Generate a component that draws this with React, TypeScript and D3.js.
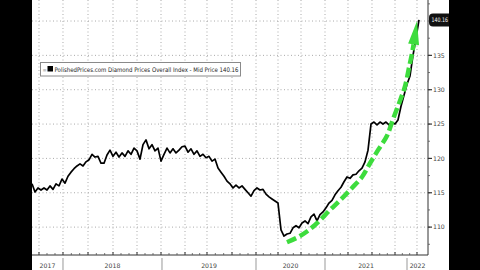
import React from "react";
import * as d3 from "d3";

// Diamond index (weekly samples, index position on x axis)
const indexValues: number[] = [
  116.3, 115.1, 115.7, 115.4, 115.7, 115.4, 116.0, 115.5, 116.3, 116.0,
  117.0, 116.4, 117.4, 118.0, 118.5, 118.9, 119.2, 118.9, 119.5, 119.8,
  120.6, 120.2, 120.3, 119.3, 119.3, 120.5, 121.2, 120.3, 120.9, 120.2,
  120.8, 120.3, 121.1, 120.6, 121.5, 121.1, 119.9, 122.0, 122.7, 121.4,
  122.0, 121.1, 121.5, 119.6, 120.6, 121.5, 120.8, 121.4, 120.8, 121.2,
  121.7, 121.8, 120.9, 121.4, 120.6, 121.1, 120.3, 120.6, 120.1, 120.3,
  119.6, 119.9, 118.6, 118.0, 117.4, 116.7, 116.3, 115.7, 116.1, 115.7,
  116.0, 115.5, 115.0, 114.5, 115.3, 115.7, 115.4, 115.5, 114.8, 114.4,
  114.1, 113.8, 113.5, 109.6, 108.7, 109.0, 109.1, 109.9, 110.2, 109.9,
  110.6, 110.9, 110.5, 111.5, 111.9, 110.9, 111.8, 112.2, 112.8, 113.5,
  113.9, 114.7, 115.3, 115.8, 116.6, 117.3, 117.1, 117.6, 117.7, 118.2,
  118.6, 119.5, 121.2, 125.0, 125.3, 124.9, 125.3, 125.0, 125.3, 124.9,
  125.2, 125.0, 125.6, 127.6, 129.2, 130.8, 132.0, 135.0, 137.5, 140.16,
];

// Green trend annotation (index, value)
const trendIdx: number[] = [85.0, 89.33, 94.33, 99.33, 102.67, 106.67, 110.0, 112.67, 115.33, 118.33, 120.33, 122.67, 124.33, 125.67, 126.67, 127.2];
const trendVal: number[] = [107.8, 108.7, 110.3, 112.5, 113.9, 115.7, 117.3, 119.3, 121.2, 123.3, 125.7, 128.4, 130.5, 133.2, 135.3, 136.6];
const trendTip: number[] = [128.33, 140.0];

const yearLabels: string[] = ["2017", "2018", "2019", "2020", "2021", "2022"];
const yearBounds: number[] = [0, 10.33, 43.33, 74.67, 97.67, 125, 132];
const gridIdx: number[] = [2.33, 10.33, 18.67, 27, 35, 43, 51, 58.33, 66.67, 74.67, 82, 89.67, 97.67, 105.33, 113.33, 121, 128.33];
const yTicks: number[] = [110, 115, 120, 125, 130, 135];
const yGrid: number[] = [110, 115, 120, 125, 130, 135, 140];
const lastValue = "140.16";
const legendText = "PolishedPrices.com Diamond Prices Overall Index - Mid Price 140.16";

export default function App() {
  const W = 480, H = 270;
  const left = 32, right = 428, bottom = 255;
  const x = d3.scaleLinear().domain([0, 132]).range([left, right]);
  const y = d3.scaleLinear().domain([105.94, 143.06]).range([bottom, 0]);

  const line = d3.line<number>().x((_, i) => x(i)).y((d) => y(d)).curve(d3.curveLinear);
  const trendPts: [number, number][] = trendIdx.map((t, i) => [x(t), y(trendVal[i])]);
  const trendLine = d3.line().curve(d3.curveCatmullRom)(trendPts) || "";

  // arrowhead
  const tip: [number, number] = [x(trendTip[0]), y(trendTip[1])];
  const base = trendPts[trendPts.length - 1];
  const dx = tip[0] - base[0], dy = tip[1] - base[1];
  const len = Math.hypot(dx, dy);
  const px = -dy / len, py = dx / len;
  const hw = 5.5;
  const head = `M${tip[0]},${tip[1]} L${base[0] + px * hw},${base[1] + py * hw} L${base[0] - px * hw},${base[1] - py * hw} Z`;

  // monthly minor ticks on x axis
  const minor: number[] = [];
  for (let g = 0; g < gridIdx.length - 1; g++) {
    const a = gridIdx[g], b = gridIdx[g + 1];
    minor.push(a + (b - a) / 3, a + (2 * (b - a)) / 3);
  }
  const yMinor = d3.range(107.5, 143, 2.5);

  return (
    <svg width={W} height={H} style={{ position: "absolute", left: 0, top: 0, background: "#fff" }}
      fontFamily="'DejaVu Sans', Verdana, sans-serif">
      <rect x={0} y={0} width={W} height={H} fill="#fff" />
      {/* grid */}
      {yGrid.map((v) => (
        <line key={"hg" + v} x1={left} x2={right} y1={y(v)} y2={y(v)} stroke="#aaa" strokeWidth={1} strokeDasharray="1,2.5" />
      ))}
      {gridIdx.map((g) => (
        <line key={"vg" + g} x1={x(g)} x2={x(g)} y1={0} y2={bottom} stroke="#aaa" strokeWidth={1} strokeDasharray="1,2.5" />
      ))}
      {/* axes */}
      <line x1={left} x2={right} y1={bottom} y2={bottom} stroke="#333" strokeWidth={1} />
      <line x1={right} x2={right} y1={0} y2={bottom} stroke="#333" strokeWidth={1} />
      {gridIdx.map((g) => (
        <line key={"xt" + g} x1={x(g)} x2={x(g)} y1={bottom} y2={bottom - 3} stroke="#333" strokeWidth={1} />
      ))}
      {minor.map((g, i) => (
        <line key={"xm" + i} x1={x(g)} x2={x(g)} y1={bottom} y2={bottom - 2} stroke="#555" strokeWidth={0.8} />
      ))}
      {yearBounds.slice(1, -1).map((b) => (
        <line key={"yb" + b} x1={x(b)} x2={x(b)} y1={bottom + 3} y2={H} stroke="#999" strokeWidth={1} />
      ))}
      {yearLabels.map((lab, i) => (
        <text key={lab} x={x((yearBounds[i] + yearBounds[i + 1]) / 2)} y={268} fontSize={6.2} fill="#444" textAnchor="middle">{lab}</text>
      ))}
      {yMinor.map((v) => (
        <line key={"ym" + v} x1={right} x2={right + 2} y1={y(v)} y2={y(v)} stroke="#555" strokeWidth={0.8} />
      ))}
      {yTicks.map((v) => (
        <g key={"yt" + v}>
          <line x1={right} x2={right + 4} y1={y(v)} y2={y(v)} stroke="#333" strokeWidth={1.2} />
          <text x={right + 5} y={y(v) + 2.3} fontSize={6.2} fill="#444">{v}</text>
        </g>
      ))}
      {/* data line */}
      <path d={line(indexValues) || ""} fill="none" stroke="#000" strokeWidth={1.7} strokeLinejoin="round" />
      {/* green trend arrow */}
      <path d={trendLine} fill="none" stroke="#3ddc3d" strokeWidth={4.5} strokeDasharray="10,4" strokeLinecap="butt" />
      <path d={head} fill="#3ddc3d" />
      {/* last value badge */}
      <rect x={right + 1} y={y(140.16) - 6.5} width={26} height={13} rx={4} fill="#111" />
      <text x={right + 3.5} y={y(140.16) + 2.3} fontSize={6.2} fill="#fff" textLength={16.5} lengthAdjust="spacingAndGlyphs">{lastValue}</text>
      {/* legend */}
      <rect x={40.5} y={62.5} width={200} height={13.5} fill="#fff" stroke="#8a8a8a" strokeWidth={1} />
      <text x={42.5} y={71.5} fontSize={5} fill="#999">≡</text>
      <rect x={47.5} y={66} width={5.5} height={5.5} fill="#000" />
      <text x={54.5} y={71.8} fontSize={6.3} fill="#222" textLength={184} lengthAdjust="spacingAndGlyphs">{legendText}</text>
      {/* letterbox bars */}
      <rect x={0} y={0} width={left} height={H} fill="#000" />
      <rect x={449} y={0} width={W - 449} height={H} fill="#000" />
    </svg>
  );
}
